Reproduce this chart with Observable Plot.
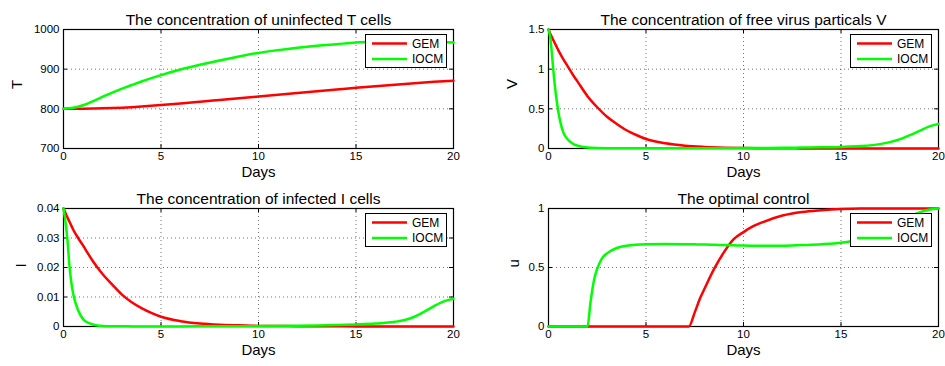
<!DOCTYPE html>
<html><head><meta charset="utf-8">
<script src="https://cdn.jsdelivr.net/npm/d3@7"></script>
<script src="https://cdn.jsdelivr.net/npm/@observablehq/plot@0.6"></script>
<style>
body{margin:0;background:#fff;}
#chart{position:relative;width:945px;height:366px;font-family:"Liberation Sans",Arial,Helvetica,sans-serif;background:#fff;}
#chart > svg{position:absolute;overflow:visible;}
.legend{position:absolute;border:1px solid #000;background:#fff;box-sizing:border-box;width:82px;height:34px;}
.legend svg{display:block;}
</style></head><body><div id="chart"></div>
<script>
// ---- data ----
const seriesNames = ["GEM", "IOCM"];
const seriesColors = ["#ff0000", "#00ff00"];
const xTicks = [0, 5, 10, 15, 20];

const daysT = [0, 0.5, 1, 1.5, 2, 2.5, 3, 3.5, 4, 5, 6, 7, 8, 9, 10, 11, 12, 13, 14, 15, 16, 17, 18, 19, 20];
const gemT  = [800, 800, 800.3, 800.7, 801.2, 802, 803, 804.3, 805.8, 809.5, 813.5, 817.8, 822.2, 826.6, 831, 835.4, 839.8, 844.2, 848.6, 853, 857, 861, 864.6, 868, 871];
const iocmT = [800, 802.5, 809, 819, 830, 841, 851, 860, 869, 885, 899, 911, 922, 932, 941, 948, 954, 959, 963, 967, 969.5, 970.5, 970.5, 969, 967];
const ticksT = [700, 800, 900, 1000];

const daysVI = [0, 0.1, 0.2, 0.3, 0.4, 0.5, 0.75, 1, 1.25, 1.5, 2, 2.5, 3, 3.5, 4, 4.5, 5, 6, 7, 8, 9, 10, 11, 12, 13, 14, 15, 16, 17, 17.5, 18, 18.5, 19, 19.5, 20];
const gemV  = [1.5, 1.44, 1.39, 1.34, 1.29, 1.24, 1.13, 1.03, 0.93, 0.84, 0.66, 0.52, 0.40, 0.31, 0.23, 0.17, 0.12, 0.065, 0.035, 0.02, 0.011, 0.006, 0.004, 0.002, 0.0015, 0.001, 0.0005, 0.0003, 0.0002, 0.0001, 0.0001, 0, 0, 0, 0];
const iocmV = [1.5, 1.38, 1.12, 0.85, 0.64, 0.47, 0.21, 0.11, 0.06, 0.035, 0.012, 0.005, 0.003, 0.0025, 0.002, 0.002, 0.002, 0.002, 0.002, 0.003, 0.004, 0.005, 0.007, 0.009, 0.012, 0.015, 0.02, 0.03, 0.055, 0.08, 0.115, 0.165, 0.22, 0.275, 0.31];
const ticksV = [0, 0.5, 1, 1.5];

const gemI  = [0.04, 0.0385, 0.037, 0.0356, 0.0342, 0.0328, 0.030, 0.0275, 0.0248, 0.0222, 0.0178, 0.0142, 0.0108, 0.0082, 0.0062, 0.0046, 0.0033, 0.0018, 0.001, 0.0006, 0.0004, 0.0002, 0.00015, 0.0001, 0.00008, 0.00005, 0.00004, 0.00003, 0.00002, 0.00001, 0.00001, 0, 0, 0, 0];
const iocmI = [0.04, 0.0355, 0.0295, 0.021, 0.015, 0.011, 0.0055, 0.0025, 0.0013, 0.0007, 0.0002, 0.0001, 0.00005, 0.00004, 0.00003, 0.00003, 0.00003, 0.00004, 0.00005, 0.00007, 0.0001, 0.00013, 0.00018, 0.00025, 0.00035, 0.0005, 0.0007, 0.001, 0.0016, 0.0022, 0.0033, 0.005, 0.0069, 0.0085, 0.0094];
const ticksI = [0, 0.01, 0.02, 0.03, 0.04];

const daysU = [0, 1, 2, 2.15, 2.33, 2.5, 2.75, 3, 3.5, 4, 5, 6, 7, 7.2, 7.5, 7.8, 8, 8.5, 9, 9.5, 10, 10.5, 11, 12, 13, 14, 15, 16, 17, 18, 19, 19.5, 20];
const gemU  = [0, 0, 0, 0, 0, 0, 0, 0, 0, 0, 0, 0, 0, 0, 0.12, 0.25, 0.32, 0.49, 0.63, 0.74, 0.80, 0.85, 0.885, 0.94, 0.97, 0.985, 0.995, 1, 1, 1, 1, 1, 1];
const iocmU = [0, 0, 0, 0.2, 0.39, 0.49, 0.58, 0.62, 0.665, 0.685, 0.698, 0.70, 0.698, 0.697, 0.696, 0.695, 0.695, 0.693, 0.69, 0.688, 0.686, 0.685, 0.684, 0.684, 0.69, 0.697, 0.71, 0.74, 0.80, 0.89, 0.965, 0.99, 1.0];
const ticksU = [0, 0.5, 1];

// ---- drawing ----
const chart = document.getElementById("chart");
const FONT = '"Liberation Sans", Arial, Helvetica, sans-serif';
const fmt = d => String(d);
const rows = (days, vals) => days.map((d, i) => ({day: d, value: vals[i]}));

function panel(c) {
  const fw = c.width - c.ml - c.mr, fh = c.height - c.mt - c.mb;
  const grid = {stroke: "#000", strokeOpacity: 0.55, strokeDasharray: "1,3", strokeWidth: 1};
  const svg = Plot.plot({
    width: c.width, height: c.height,
    marginLeft: c.ml, marginRight: c.mr, marginTop: c.mt, marginBottom: c.mb,
    style: {fontFamily: FONT, fontSize: "11.5px", color: "#000", background: "transparent", overflow: "visible"},
    x: {domain: [0, 20]},
    y: {domain: [c.ticks[0], c.ticks[c.ticks.length - 1]]},
    marks: [
      Plot.gridX(xTicks, grid),
      Plot.gridY(c.ticks, grid),
      Plot.frame({stroke: "#000", strokeWidth: 1.2}),
      Plot.tickX(xTicks, {x: d => d, insetTop: fh - 4, stroke: "#000"}),
      Plot.tickX(xTicks, {x: d => d, insetBottom: fh - 4, stroke: "#000"}),
      Plot.tickY(c.ticks, {y: d => d, insetRight: fw - 4, stroke: "#000"}),
      Plot.tickY(c.ticks, {y: d => d, insetLeft: fw - 4, stroke: "#000"}),
      Plot.line(rows(c.days, c.gem), {x: "day", y: "value", stroke: seriesColors[0], strokeWidth: 2.5, curve: "monotone-x"}),
      Plot.line(rows(c.days, c.iocm), {x: "day", y: "value", stroke: seriesColors[1], strokeWidth: 2.5, curve: "monotone-x"}),
      Plot.axisX(xTicks, {tickSize: 0, tickPadding: 3, tickFormat: fmt, label: null}),
      Plot.axisY(c.ticks, {tickSize: 0, tickPadding: 4, tickFormat: fmt, label: null}),
      Plot.text([c.title], {text: d => d, frameAnchor: "top", dy: -16, fontSize: 15.5}),
      Plot.text(["Days"], {text: d => d, frameAnchor: "bottom", dy: 28, fontSize: 15}),
      Plot.text([c.ylabel], {text: d => d, frameAnchor: "left", dx: c.ylDx, rotate: -90, fontSize: 15})
    ]
  });
  svg.style.left = c.left + "px";
  svg.style.top = c.top + "px";
  chart.appendChild(svg);

  const lg = document.createElement("div");
  lg.className = "legend";
  lg.style.left = (c.left + c.ml + fw - 88) + "px";
  lg.style.top = (c.top + c.mt + 5) + "px";
  const s = d3.create("svg").attr("width", 80).attr("height", 32);
  seriesNames.forEach((n, i) => {
    const y = 8.5 + i * 15.5;
    s.append("line").attr("x1", 6).attr("x2", 41).attr("y1", y).attr("y2", y)
      .attr("stroke", seriesColors[i]).attr("stroke-width", 2.5);
    s.append("text").attr("x", 46).attr("y", y).attr("dy", "0.35em")
      .attr("font-family", FONT).attr("font-size", 12).attr("fill", "#000").text(n);
  });
  lg.appendChild(s.node());
  chart.appendChild(lg);
}

panel({left: 0, top: 0, width: 470, height: 180, ml: 63, mr: 17, mt: 29, mb: 32,
  days: daysT, gem: gemT, iocm: iocmT, ticks: ticksT,
  title: "The concentration of uninfected T cells", ylabel: "T", ylDx: -46});
panel({left: 470, top: 0, width: 475, height: 180, ml: 78, mr: 7, mt: 29, mb: 32,
  days: daysVI, gem: gemV, iocm: iocmV, ticks: ticksV,
  title: "The concentration of free virus particals V", ylabel: "V", ylDx: -36});
panel({left: 0, top: 180, width: 470, height: 186, ml: 63, mr: 17, mt: 28, mb: 40,
  days: daysVI, gem: gemI, iocm: iocmI, ticks: ticksI,
  title: "The concentration of infected I cells", ylabel: "I", ylDx: -42});
panel({left: 470, top: 180, width: 475, height: 186, ml: 78, mr: 7, mt: 28, mb: 40,
  days: daysU, gem: gemU, iocm: iocmU, ticks: ticksU,
  title: "The optimal control", ylabel: "u", ylDx: -34});
</script>
</body></html>
